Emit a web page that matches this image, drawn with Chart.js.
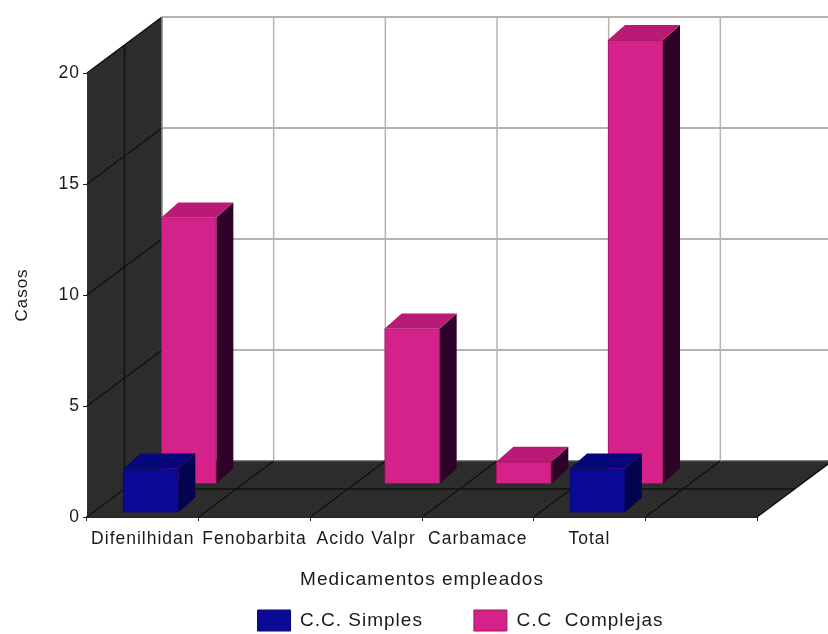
<!DOCTYPE html>
<html>
<head>
<meta charset="utf-8">
<title>Medicamentos empleados</title>
<script src="https://cdn.jsdelivr.net/npm/chart.js@4"></script>
<style>
  html, body { margin: 0; padding: 0; background: #fff; }
  #wrap { width: 828px; height: 634px; }
</style>
</head>
<body>
<div id="wrap"><canvas id="casosChart"></canvas></div>
<script>
// Datos
const categorias = ['Difenilhidan', 'Fenobarbita', 'Acido Valpr', 'Carbamace', 'Total', ''];
const simples = [2, null, null, null, 2, null];
const complejas = [12, null, 7, 1, 20, null];
const valoresEje = [0, 5, 10, 15, 20];

// Perspectiva de la caja: fondo desplazado respecto al frente
const FONDO_X = 75;
const FONDO_Y = -56;
const PROF_BARRA_X = 17;
const PROF_BARRA_Y = -15;

const TEXTO = '#1a1a1a';
const FUENTE = 'Liberation Sans, Arial, sans-serif';

// Trama oscura de las paredes
function tramaOscura(ctx) {
    const c = document.createElement('canvas');
    c.width = 4;
    c.height = 4;
    const p = c.getContext('2d');
    p.fillStyle = '#2e2e2e';
    p.fillRect(0, 0, 4, 4);
    p.fillStyle = '#222';
    p.fillRect(0, 0, 1, 1);
    p.fillRect(2, 2, 1, 1);
    return ctx.createPattern(c, 'repeat');
}

function poligono(ctx, puntos, relleno) {
    ctx.beginPath();
    puntos.forEach((p, i) => i ? ctx.lineTo(p[0], p[1]) : ctx.moveTo(p[0], p[1]));
    ctx.closePath();
    ctx.fillStyle = relleno;
    ctx.fill();
}

function linea(ctx, x1, y1, x2, y2, color, ancho) {
    ctx.beginPath();
    ctx.moveTo(x1, y1);
    ctx.lineTo(x2, y2);
    ctx.strokeStyle = color;
    ctx.lineWidth = ancho;
    ctx.stroke();
}

// Paredes, piso y rejilla, calculados desde las escalas
const cajaPlugin = {
    id: 'caja3d',
    beforeLayout(chart) {
        chart.ctx.letterSpacing = '1px';
    },
    afterLayout(chart) {
        // la leyenda va corrida a la derecha y pegada al borde inferior
        const ley = chart.legend;
        ley.left += 82;
        ley.right += 82;
        ley.top = 610 - ley.options.labels.padding;
    },
    beforeDraw(chart) {
        chart.ctx.letterSpacing = '1px';
    },
    beforeDatasetsDraw(chart) {
        const { ctx, scales: { x, y }, chartArea: a } = chart;
        const trama = tramaOscura(ctx);
        const y0 = y.getPixelForValue(0);
        const yMax = y.getPixelForValue(20);
        const anchoCat = (a.right - a.left) / categorias.length;

        ctx.save();
        // pared izquierda
        poligono(ctx, [[a.left, y0], [a.left, yMax], [a.left + FONDO_X, yMax + FONDO_Y], [a.left + FONDO_X, y0 + FONDO_Y]], trama);
        // piso
        poligono(ctx, [[a.left, y0], [a.right, y0], [a.right + FONDO_X, y0 + FONDO_Y], [a.left + FONDO_X, y0 + FONDO_Y]], trama);

        // rejilla de la pared del fondo
        valoresEje.forEach(v => {
            const py = y.getPixelForValue(v) + FONDO_Y;
            linea(ctx, a.left + FONDO_X, py, 828, py, v === 0 ? '#555' : '#9a9a9a', 1.5);
            linea(ctx, a.left, y.getPixelForValue(v), a.left + FONDO_X, py, '#111', 1.5);
        });
        categorias.forEach((c, i) => {
            const px = a.left + FONDO_X + anchoCat * (i + 1);
            linea(ctx, px, yMax + FONDO_Y, px, y0 + FONDO_Y, '#b4b4b4', 1.5);
            const fx = a.left + anchoCat * (i + 1);
            linea(ctx, fx, y0, px, y0 + FONDO_Y, '#111', 1.5);
        });
        linea(ctx, a.left + FONDO_X, yMax + FONDO_Y, a.left + FONDO_X, y0 + FONDO_Y, '#8a8a8a', 1.5);

        // lineas a media profundidad
        const medX = a.left + FONDO_X / 2;
        const medY = FONDO_Y / 2;
        linea(ctx, medX, yMax + medY, medX, y0 + medY, '#111', 1.5);
        linea(ctx, medX, y0 + medY, a.right + FONDO_X / 2, y0 + medY, '#111', 1.5);
        ctx.restore();
    },
    beforeDatasetDraw(chart, args) {
        const { ctx } = chart;
        const ds = chart.data.datasets[args.index];
        ctx.save();
        ctx.translate(ds.desplX, ds.desplY);
        // caras lateral y superior de cada barra
        args.meta.data.forEach((bar, i) => {
            if (ds.data[i] == null) return;
            const izq = bar.x - bar.width / 2;
            const der = bar.x + bar.width / 2;
            poligono(ctx, [[der, bar.y], [der + PROF_BARRA_X, bar.y + PROF_BARRA_Y], [der + PROF_BARRA_X, bar.base + PROF_BARRA_Y], [der, bar.base]], ds.colorLado);
            poligono(ctx, [[izq, bar.y], [izq + PROF_BARRA_X, bar.y + PROF_BARRA_Y], [der + PROF_BARRA_X, bar.y + PROF_BARRA_Y], [der, bar.y]], ds.colorTapa);
        });
    },
    afterDatasetDraw(chart) {
        chart.ctx.restore();
    }
};

new Chart(document.getElementById('casosChart').getContext('2d'), {
    type: 'bar',
    data: {
        labels: categorias,
        datasets: [
            {
                label: 'C.C. Simples',
                data: simples,
                backgroundColor: '#0a0a96',
                borderColor: '#06066e',
                borderWidth: 1,
                colorTapa: '#07077c',
                colorLado: '#04044e',
                desplX: 8,
                desplY: -4,
                clip: false
            },
            {
                label: 'C.C  Complejas',
                data: complejas,
                backgroundColor: '#d4228a',
                borderColor: '#a0165f',
                borderWidth: 1,
                colorTapa: '#b91a76',
                colorLado: '#2f0228',
                desplX: 46,
                desplY: -33,
                clip: false
            }
        ]
    },
    options: {
        responsive: true,
        maintainAspectRatio: false,
        animation: false,
        grouped: false,
        barThickness: 55,
        layout: { padding: { top: 73, right: 71, left: 0, bottom: -40 } },
        plugins: {
            tooltip: { enabled: false },
            legend: {
                position: 'bottom',
                labels: {
                    boxWidth: 33,
                    boxHeight: 21,
                    padding: 51,
                    color: TEXTO,
                    font: { family: FUENTE, size: 19 }
                }
            }
        },
        scales: {
            x: {
                afterFit(scale) { scale.height = 75; },
                grid: { drawOnChartArea: false, offset: true, tickLength: 4, color: '#222' },
                border: { color: '#222', width: 2 },
                ticks: {
                    color: TEXTO,
                    autoSkip: false,
                    maxRotation: 0,
                    padding: 8,
                    font: { family: FUENTE, size: 17.5 }
                },
                title: {
                    display: true,
                    text: 'Medicamentos empleados',
                    color: TEXTO,
                    padding: { top: 4, bottom: 1 },
                    font: { family: FUENTE, size: 19 }
                }
            },
            y: {
                min: 0,
                max: 20,
                afterFit(scale) { scale.width = 87; },
                grid: { drawOnChartArea: false, tickLength: 4, color: '#222' },
                border: { color: '#222', width: 1 },
                ticks: {
                    stepSize: 5,
                    color: TEXTO,
                    padding: 3,
                    font: { family: FUENTE, size: 17.5 }
                },
                title: {
                    display: true,
                    text: 'Casos',
                    color: TEXTO,
                    padding: { top: 12, bottom: 0 },
                    font: { family: FUENTE, size: 17 }
                }
            }
        }
    },
    plugins: [cajaPlugin]
});
</script>
</body>
</html>
